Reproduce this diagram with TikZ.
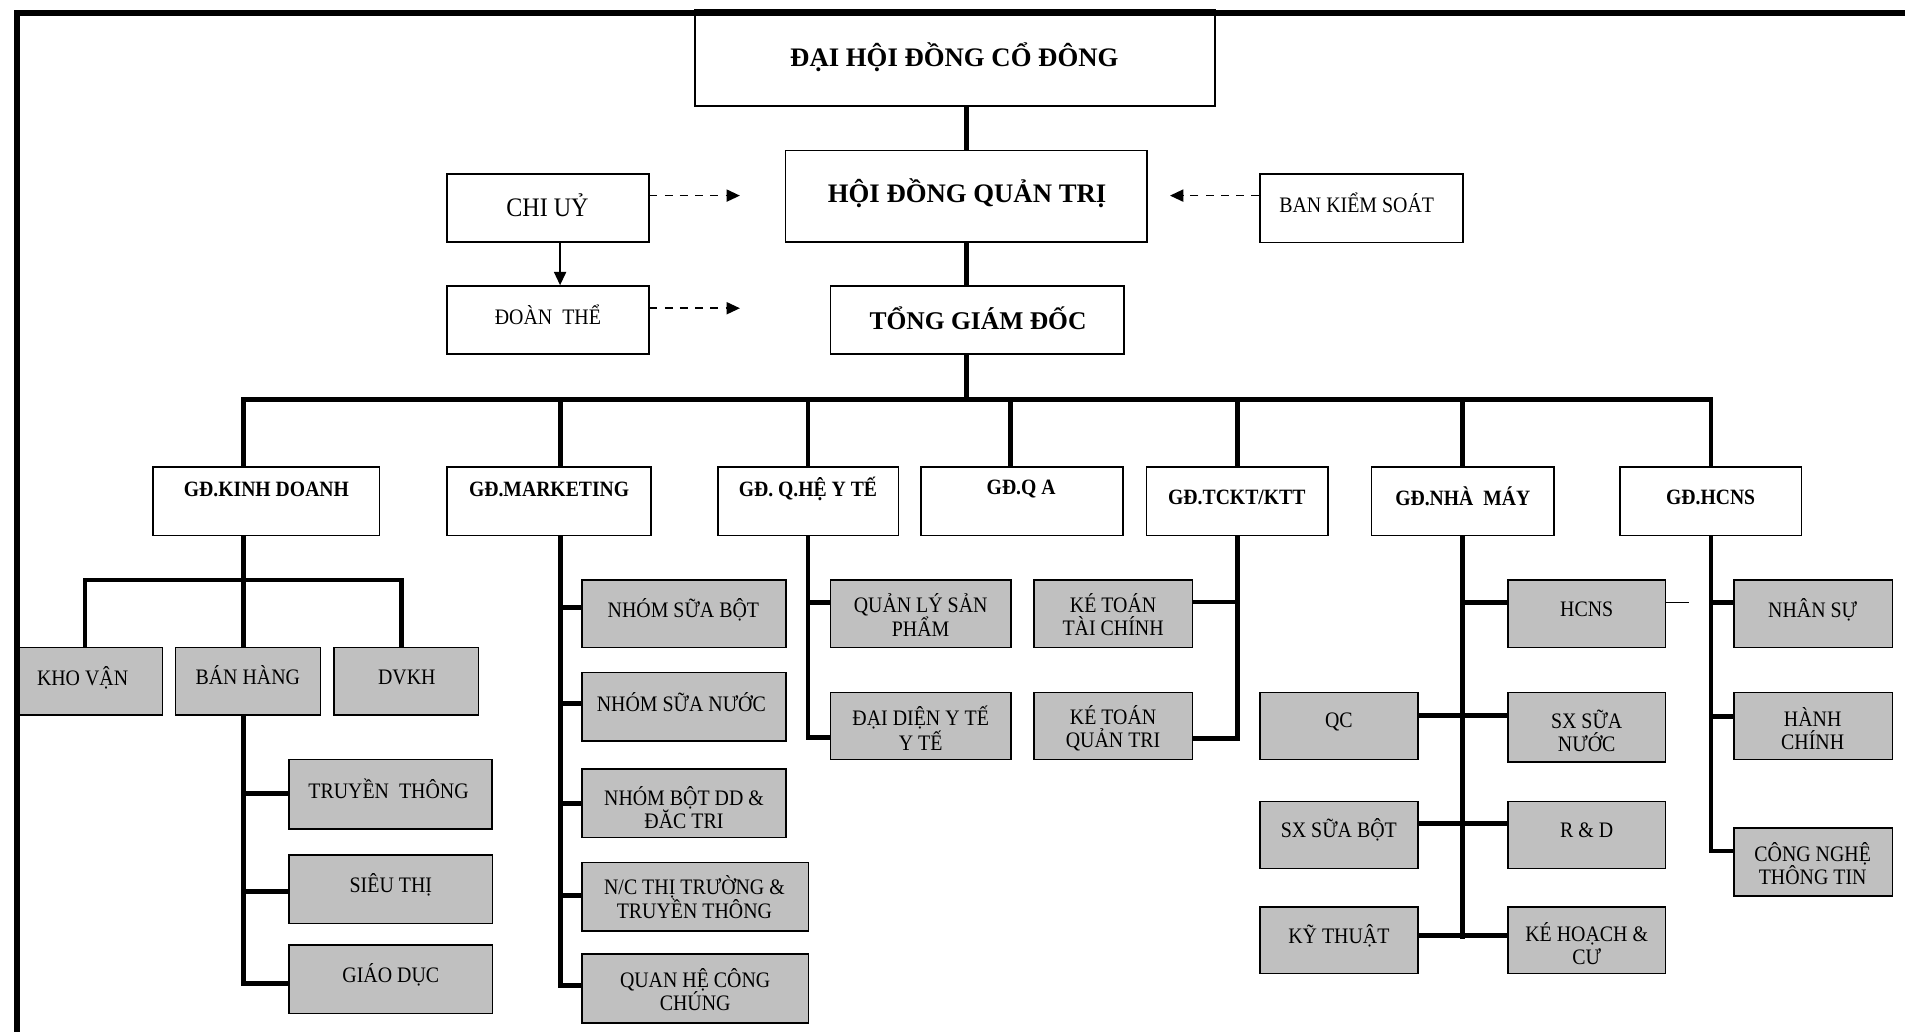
\documentclass[tikz,border=0pt]{standalone}
\usepackage{fontspec}
\setmainfont{Liberation Serif}[FakeStretch=0.9]
\newfontfamily\widefont{Liberation Serif}
\usetikzlibrary{arrows.meta,calc}
\definecolor{boxgray}{RGB}{192,192,192}
\newcommand\bx[6]{\node[#2, minimum width={#5-#3}, minimum height={#6-#4}] (#1) at ({(#3+#5)/2},{(#4+#6)/2}) {};}
\begin{document}
\begin{tikzpicture}[x=1pt,y=-1pt,
  wbox/.style={draw, line width=1.3pt, fill=white, inner sep=0pt},
  gbox/.style={draw, line width=1.3pt, fill=boxgray, inner sep=0pt},
  txt/.style={font=\fontsize{18.2}{19}\selectfont, align=center, inner sep=0pt},
  bt/.style={font=\bfseries\fontsize{18}{20}\selectfont, inner sep=0pt},
  bigt/.style={font=\widefont\bfseries\fontsize{22}{26}\selectfont, inner sep=0pt},
  conn/.style={line width=4pt},
  dasharr/.style={line width=1.3pt, dash pattern=on 6.5pt off 6pt, -{Triangle[length=11pt,width=10pt]}},
  solidarr/.style={line width=1.5pt, -{Triangle[length=11pt,width=10pt]}}]
\useasboundingbox (0,0) rectangle (1568,849);

% ---- top level
\bx{dhd}{wbox}{572}{8}{1000}{87.3}
\bx{hdqt}{wbox}{646.6}{124}{944}{199}
\bx{tgd}{wbox}{683.6}{235.4}{925}{291.4}
\bx{cu}{wbox}{368}{143}{534}{199}
\bx{dt}{wbox}{368}{235.4}{534}{291.2}
\bx{bks}{wbox}{1037}{143}{1204}{199.5}

\node[bigt] (dhd-t) at (785.5,47.4) {ĐẠI HỘI ĐỒNG CỔ ĐÔNG};
\node[bigt] (hdqt-t) at (796,159) {HỘI ĐỒNG QUẢN TRỊ};
\node[font=\widefont\bfseries\fontsize{21}{25}\selectfont, inner sep=0pt] (tgd-t) at (805,261.8) {TỔNG GIÁM ĐỐC};
\node[font=\fontsize{22}{26}\selectfont, inner sep=0pt] (cu-t) at (450.6,169) {CHI UỶ};
\node[txt] (dt-t) at (451,259) {ĐOÀN\ \ THỂ};
\node[txt] (bks-t) at (1116.7,166.7) {BAN KIỂM SOÁT};

\draw[conn] (hdqt.north |- dhd.south) -- (hdqt.north);
\draw[conn] (hdqt.south) -- (hdqt.south |- tgd.north);

\coordinate (cuEnd) at (609,161);
\coordinate (dtEnd) at (609,253.7);
\coordinate (bksEnd) at (963,161);
\draw[dasharr] (cu.east |- cuEnd) -- (cuEnd);
\draw[dasharr] (dt.east |- dtEnd) -- (dtEnd);
\draw[dasharr] (bks.west |- bksEnd) -- (bksEnd);
\draw[solidarr] ($(cu.south)+(10,0)$) -- ($(dt.north)+(10,0)$);

% ---- level 2
\bx{kd}{wbox}{126}{384.6}{312.5}{440.9}
\bx{mkt}{wbox}{368}{384.6}{535.7}{440.9}
\bx{qhyt}{wbox}{590.8}{384.6}{739.6}{440.9}
\bx{qa}{wbox}{758}{384.6}{924.4}{440.9}
\bx{tckt}{wbox}{943.5}{384.6}{1093}{440.9}
\bx{nm}{wbox}{1129}{384.6}{1279}{440.9}
\bx{hc}{wbox}{1333.6}{384.6}{1482.9}{440.9}

\node[bt] (kd-t) at (219.3,402.8) {GĐ.KINH DOANH};
\node[bt] (mkt-t) at (452,402.8) {GĐ.MARKETING};
\node[bt] (qhyt-t) at (665,402.8) {GĐ. Q.HỆ Y TẾ};
\node[bt] (qa-t) at (840.5,402.8) {GĐ.Q A};
\node[bt] (tckt-t) at (1018,409.3) {GĐ.TCKT/KTT};
\node[bt] (nm-t) at (1204,408.5) {GĐ.NHÀ\ \ MÁY};
\node[bt] (hc-t) at (1408,409.3) {GĐ.HCNS};

\coordinate (xk) at (200.7,328.8);
\coordinate (xm) at (461,328.8);
\coordinate (xq) at (665,328.8);
\coordinate (xa) at (832,328.8);
\coordinate (xt) at (1018.5,328.8);
\coordinate (xn) at (1204,328.8);
\coordinate (xh) at (1408.3,328.8);
\draw[conn] (tgd.south -| hdqt.south) -- (hdqt.south |- xk);
\draw[conn] (xk |- kd.north) -- (xk) -- (xh) -- (xh |- hc.north);
\draw[conn] (xm) -- (xm |- mkt.north);
\draw[conn] (xq) -- (xq |- qhyt.north);
\draw[conn] (xa) -- (xa |- qa.north);
\draw[conn] (xt) -- (xt |- tckt.north);
\draw[conn] (xn) -- (xn |- nm.north);

% ---- kinh doanh
\bx{khov}{gbox}{14.8}{533}{133.9}{588.7}
\bx{bh}{gbox}{144.6}{533}{263.7}{588.7}
\bx{dvkh}{gbox}{274.7}{533}{393.8}{588.7}
\bx{tt}{gbox}{237.9}{625.3}{404.8}{682.4}
\bx{st}{gbox}{238}{703.8}{405.5}{760.2}
\bx{gd}{gbox}{238}{778}{405.5}{834.3}
\node[txt] (khov-t) at (68,557.9) {KHO VẬN};
\node[txt] (bh-t) at (204,556) {BÁN HÀNG};
\node[txt] (dvkh-t) at (334.8,557.9) {DVKH};
\node[txt] (tt-t) at (319.8,649.6) {TRUYỀN\ \ THÔNG};
\node[txt] (st-t) at (321.7,728) {SIÊU THỊ};
\node[txt] (gd-t) at (321.7,802.4) {GIÁO DỤC};

\coordinate (kb1) at (70,477.4);
\coordinate (kb2) at (330.7,477.4);
\draw[conn] (xk |- kd.south) -- (xk |- bh.north);
\draw[conn] (kb1 |- khov.north) -- (kb1) -- (kb2) -- (kb2 |- dvkh.north);
\draw[conn] (xk |- bh.south) -- (xk |- 0,809.7) -- (gd.west |- 0,809.7);
\draw[conn] (xk |- 0,653.3) -- (tt.west |- 0,653.3);
\draw[conn] (xk |- 0,733.6) -- (st.west |- 0,733.6);

% ---- marketing
\bx{nsb}{gbox}{479}{477.4}{647}{533}
\bx{nsn}{gbox}{479}{553.6}{647}{609.9}
\bx{nbd}{gbox}{479}{632.8}{647}{689.5}
\bx{nct}{gbox}{479}{710}{665.4}{766.4}
\bx{qhcc}{gbox}{479}{785}{665.4}{841.8}
\node[txt] (nsb-t) at (562.5,501.8) {NHÓM SỮA BỘT};
\node[txt] (nsn-t) at (560.8,578.3) {NHÓM SỮA NƯỚC};
\node[txt] (nbd-t) at (563,664.6) {NHÓM BỘT DD \&\\ĐĂC TRI};
\node[txt] (nct-t) at (571.6,738.6) {N/C THỊ TRƯỜNG \&\\TRUYỀN THÔNG};
\node[txt] (qhcc-t) at (572.2,814.7) {QUAN HỆ CÔNG\\CHÚNG};

\draw[conn] (xm |- mkt.south) -- (xm |- 0,811) -- (qhcc.west |- 0,811);
\draw[conn] (xm |- 0,500) -- (nsb.west |- 0,500);
\draw[conn] (xm |- 0,579) -- (nsn.west |- 0,579);
\draw[conn] (xm |- 0,661) -- (nbd.west |- 0,661);
\draw[conn] (xm |- 0,737) -- (nct.west |- 0,737);

% ---- quan he y te
\bx{qlsp}{gbox}{683.4}{477.4}{832.2}{533}
\bx{ddyt}{gbox}{683.4}{570}{832.2}{625.3}
\node[txt] (qlsp-t) at (757.8,506.2) {QUẢN LÝ SẢN\\PHẨM};
\node[txt] (ddyt-t) at (757.8,599.2) {ĐẠI DIỆN Y TẾ\\Y TẾ};
\draw[conn] (xq |- qhyt.south) -- (xq |- 0,607.2) -- (ddyt.west |- 0,607.2);
\draw[conn] (xq |- 0,496.2) -- (qlsp.west |- 0,496.2);

% ---- tckt
\bx{kttc}{gbox}{851}{477.4}{981.4}{533}
\bx{ktqt}{gbox}{851}{570}{981.4}{625.3}
\node[txt] (kttc-t) at (916.2,506.2) {KÉ TOÁN\\TÀI CHÍNH};
\node[txt] (ktqt-t) at (916.2,599.2) {KÉ TOÁN\\QUẢN TRI};
\draw[conn] (xt |- tckt.south) -- (xt |- 0,607.5) -- (ktqt.east |- 0,607.5);
\draw[conn] (xt |- 0,495.5) -- (kttc.east |- 0,495.5);

% ---- nha may
\bx{hcns}{gbox}{1241}{477.4}{1371}{533}
\bx{sxsn}{gbox}{1241}{570}{1371}{627}
\bx{qc}{gbox}{1037}{570}{1167}{625}
\bx{sxsb}{gbox}{1037}{659.7}{1167}{715}
\bx{rd}{gbox}{1241}{659.7}{1371}{715}
\bx{kt}{gbox}{1037}{746.7}{1167}{801.3}
\bx{khc}{gbox}{1241}{746.7}{1371}{801.3}
\node[txt] (hcns-t) at (1306,501.7) {HCNS};
\node[txt] (sxsn-t) at (1306,601.9) {SX SỮA\\NƯỚC};
\node[txt] (qc-t) at (1102,594.5) {QC};
\node[txt] (sxsb-t) at (1102,683.2) {SX SỮA BỘT};
\node[txt] (rd-t) at (1306,683.2) {R \& D};
\node[txt] (kt-t) at (1102,770.3) {KỸ THUẬT};
\node[txt] (khc-t) at (1306,776.6) {KÉ HOẠCH \&\\CƯ};
\draw[conn] (xn |- nm.south) -- (xn |- 0,773);
\draw[conn] (xn |- 0,496.2) -- (hcns.west |- 0,496.2);
\draw[conn] (qc.east |- 0,589) -- (sxsn.west |- 0,589);
\draw[conn] (sxsb.east |- 0,677.8) -- (rd.west |- 0,677.8);
\draw[conn] (kt.east |- 0,770.3) -- (khc.west |- 0,770.3);
\coordinate (stub) at (1390,496);
\draw[line width=1pt] (hcns.east |- stub) -- (stub);

% ---- hcns
\bx{ns}{gbox}{1427}{477.4}{1557.6}{533}
\bx{hchinh}{gbox}{1427}{570}{1557.6}{625}
\bx{cntt}{gbox}{1427}{681.6}{1557.6}{737.4}
\node[txt] (ns-t) at (1492,501.7) {NHÂN SỰ};
\node[txt] (hchinh-t) at (1492,599.4) {HÀNH\\CHÍNH};
\node[txt] (cntt-t) at (1492,710.8) {CÔNG NGHỆ\\THÔNG TIN};
\draw[conn] (xh |- hc.south) -- (xh |- 0,700.5) -- (cntt.west |- 0,700.5);
\draw[conn] (xh |- 0,496.2) -- (ns.west |- 0,496.2);
\draw[conn] (xh |- 0,589.7) -- (hchinh.west |- 0,589.7);

% ---- frame
\draw[line width=5pt] (13.8,870) -- (13.8,10.7) -- (1600,10.7);
\end{tikzpicture}
\end{document}
